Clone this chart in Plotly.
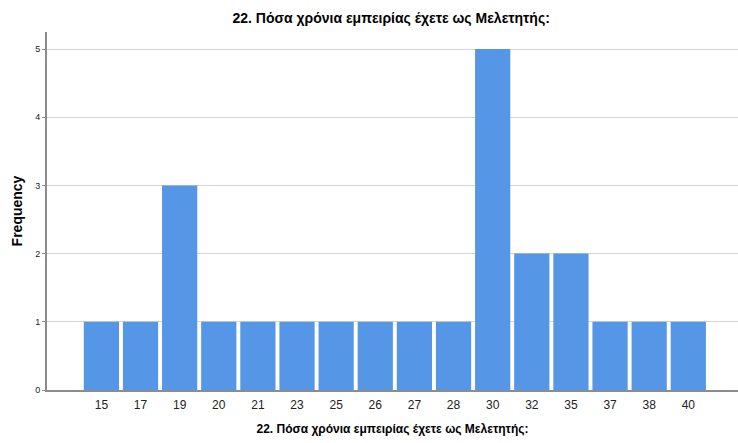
import plotly.graph_objects as go

categories = ["15", "17", "19", "20", "21", "23", "25", "26", "27", "28", "30", "32", "35", "37", "38", "40"]
frequency = [1, 1, 3, 1, 1, 1, 1, 1, 1, 1, 5, 2, 2, 1, 1, 1]
title_text = "22. Πόσα χρόνια εμπειρίας έχετε ως Μελετητής:"
y_ticks = [0, 1, 2, 3, 4, 5]

fig = go.Figure()
fig.add_trace(go.Bar(
    x=categories, y=frequency,
    marker=dict(color="rgb(85,150,230)", line=dict(width=0)),
    hoverinfo="x+y",
))

fig.update_layout(
    width=738, height=443,
    margin=dict(l=47, r=0, t=32, b=53, autoexpand=False),
    paper_bgcolor="white", plot_bgcolor="white",
    font=dict(family="Liberation Sans, Arial, sans-serif", color="black"),
    bargap=0.1,
    showlegend=False,
    title=dict(text="<b>" + title_text + "</b>", x=0.53, xanchor="center",
               y=1 - 18 / 443, yanchor="middle", yref="container", font=dict(size=14)),
    xaxis=dict(
        type="category", range=[-1.39, 16.27], automargin=False,
        showline=True, linecolor="#8c8c8c", linewidth=2,
        showgrid=False, ticks="outside", ticklen=3, tickcolor="rgba(0,0,0,0)",
        tickfont=dict(size=12, color="#222"),
        title=dict(text="<b>" + title_text + "</b>", font=dict(size=12), standoff=13),
        fixedrange=True,
    ),
    yaxis=dict(
        range=[0, 5.25], tickvals=y_ticks, automargin=False,
        showline=True, linecolor="#8c8c8c", linewidth=2,
        showgrid=True, gridcolor="#d4d4d4", gridwidth=1,
        ticks="outside", ticklen=3, tickcolor="#8c8c8c",
        tickfont=dict(size=9, color="#222"),
        title=dict(text="<b>Frequency</b>", font=dict(size=14), standoff=9),
        zeroline=False, fixedrange=True,
    ),
)

fig.write_html("out.html", config={"displayModeBar": False},
               post_script="document.body.style.margin='0';document.body.style.overflow='hidden';")
